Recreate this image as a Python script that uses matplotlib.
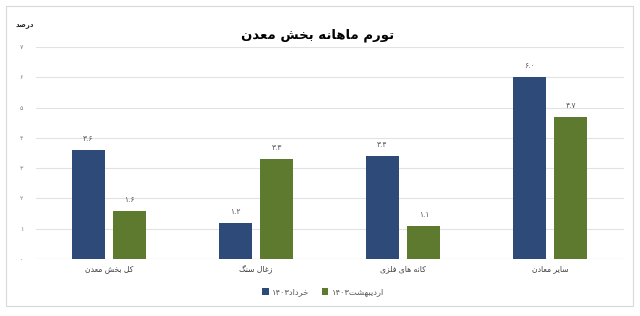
import matplotlib
matplotlib.use("Agg")
import matplotlib.pyplot as plt
from matplotlib.patches import Rectangle
import numpy as np

# ---------------- data ----------------
categories = ["کل بخش معدن", "زغال سنگ", "کانه های فلزی", "سایر معادن"]
series_names = ["خرداد۱۴۰۳", "اردیبهشت۱۴۰۳"]
khordad = [3.6, 1.2, 3.4, 6.0]
ordibehesht = [1.6, 3.3, 1.1, 4.7]
yticks = [0, 1, 2, 3, 4, 5, 6, 7]
title = "تورم ماهانه بخش معدن"
unit_label = "درصد"

# ---------------- minimal Arabic/Persian shaping ----------------
FORMS = {
    # char: (isolated, final, initial, medial)  None -> right-joining only
    "\u0627": ("\uFE8D", "\uFE8E", None, None),
    "\u0628": ("\uFE8F", "\uFE90", "\uFE91", "\uFE92"),
    "\u062A": ("\uFE95", "\uFE96", "\uFE97", "\uFE98"),
    "\u062E": ("\uFEA5", "\uFEA6", "\uFEA7", "\uFEA8"),
    "\u062F": ("\uFEA9", "\uFEAA", None, None),
    "\u0631": ("\uFEAD", "\uFEAE", None, None),
    "\u0632": ("\uFEAF", "\uFEB0", None, None),
    "\u0633": ("\uFEB1", "\uFEB2", "\uFEB3", "\uFEB4"),
    "\u0634": ("\uFEB5", "\uFEB6", "\uFEB7", "\uFEB8"),
    "\u0635": ("\uFEB9", "\uFEBA", "\uFEBB", "\uFEBC"),
    "\u0639": ("\uFEC9", "\uFECA", "\uFECB", "\uFECC"),
    "\u063A": ("\uFECD", "\uFECE", "\uFECF", "\uFED0"),
    "\u0641": ("\uFED1", "\uFED2", "\uFED3", "\uFED4"),
    "\u0644": ("\uFEDD", "\uFEDE", "\uFEDF", "\uFEE0"),
    "\u0645": ("\uFEE1", "\uFEE2", "\uFEE3", "\uFEE4"),
    "\u0646": ("\uFEE5", "\uFEE6", "\uFEE7", "\uFEE8"),
    "\u0647": ("\uFEE9", "\uFEEA", "\uFEEB", "\uFEEC"),
    "\u0648": ("\uFEED", "\uFEEE", None, None),
    "\u06A9": ("\uFB8E", "\uFB8F", "\uFB90", "\uFB91"),
    "\u06AF": ("\uFB92", "\uFB93", "\uFB94", "\uFB95"),
    "\u06CC": ("\uFBFC", "\uFBFD", "\uFBFE", "\uFBFF"),
    "\u064A": ("\uFEF1", "\uFEF2", "\uFEF3", "\uFEF4"),
}


def _dual(c):
    return c in FORMS and FORMS[c][2] is not None


def shape(s):
    out = []
    for i, c in enumerate(s):
        if c not in FORMS:
            out.append(c)
            continue
        prev = s[i - 1] if i > 0 else ""
        nxt = s[i + 1] if i + 1 < len(s) else ""
        jp = _dual(prev)
        jn = _dual(c) and nxt in FORMS
        iso, fin, ini, med = FORMS[c]
        if jp and jn:
            out.append(med)
        elif jp:
            out.append(fin)
        elif jn:
            out.append(ini)
        else:
            out.append(iso)
    return "".join(out)


DIGITS = set("0123456789۰۱۲۳۴۵۶۷۸۹.٫")


def rtl(s):
    sh = shape(s)
    runs = []
    cur = ""
    cur_d = None
    for c in sh:
        d = c in DIGITS
        if cur_d is None or d == cur_d:
            cur += c
        else:
            runs.append((cur, cur_d))
            cur = c
        cur_d = d
    if cur:
        runs.append((cur, cur_d))
    vis = []
    for txt, d in reversed(runs):
        vis.append(txt if d else txt[::-1])
    return "".join(vis)


FA = str.maketrans("0123456789", "۰۱۲۳۴۵۶۷۸۹")


def fa_num(v):
    return f"{v:.1f}".translate(FA)


# ---------------- figure ----------------
plt.rcParams["font.family"] = ["DejaVu Sans"]
fig = plt.figure(figsize=(6.4, 3.16), dpi=100)
W, H = 640, 316

# outer frame
fig.patches.append(Rectangle((6 / W, 1 - 306 / H), (633 - 6) / W, (306 - 6) / H,
                             transform=fig.transFigure, fill=False,
                             edgecolor="#d9d9d9", linewidth=0.8))

left, right = 35.5 / W, 623.5 / W
bottom, top = 1 - 259 / H, 1 - 47 / H
ax = fig.add_axes([left, bottom, right - left, top - bottom])

blue = "#2E4A78"
green = "#5E7A2E"
x = np.arange(len(categories))
bw = 0.221
off = 0.141
b1 = ax.bar(x - off, khordad, bw, color=blue, label=rtl(series_names[0]), zorder=3)
b2 = ax.bar(x + off, ordibehesht, bw, color=green, label=rtl(series_names[1]), zorder=3)

for bars, vals in ((b1, khordad), (b2, ordibehesht)):
    for r, v in zip(bars, vals):
        ax.annotate(fa_num(v), (r.get_x() + r.get_width() / 2, v),
                    xytext=(0, 5), textcoords="offset points",
                    ha="center", va="bottom", fontsize=5.5, color="#595959")

ax.set_xlim(-0.5, len(categories) - 0.5)
ax.set_ylim(0, 7)
ax.set_yticks(yticks)
ax.set_yticklabels([str(t).translate(FA) for t in yticks], fontsize=4.5, color="#7f7f7f")
ax.set_xticks(x)
ax.set_xticklabels([rtl(c) for c in categories], fontsize=5.5, color="#404040")
ax.tick_params(axis="both", length=0)
ax.tick_params(axis="y", pad=9)
ax.tick_params(axis="x", pad=4)
ax.grid(axis="y", color="#e2e2e2", linewidth=0.8, zorder=0)
for s in ax.spines.values():
    s.set_visible(False)
ax.axhline(0, color="#d6d6d6", linewidth=0.8, zorder=1)

fig.text(318 / W, 1 - 35 / H, rtl(title), ha="center", va="center",
         fontsize=9.5, fontweight="bold", color="black")
fig.text(25 / W, 1 - 25 / H, rtl(unit_label), ha="center", va="center",
         fontsize=5, fontweight="bold", color="#262626")

leg = fig.legend(handles=[b1, b2], loc="center", bbox_to_anchor=(323 / W, 1 - 292 / H),
                 ncol=2, frameon=False, fontsize=6, handlelength=0.8, handleheight=0.8,
                 handletextpad=0.4, columnspacing=1.5)
for t in leg.get_texts():
    t.set_color("#595959")

fig.savefig("out.png", dpi=100)
